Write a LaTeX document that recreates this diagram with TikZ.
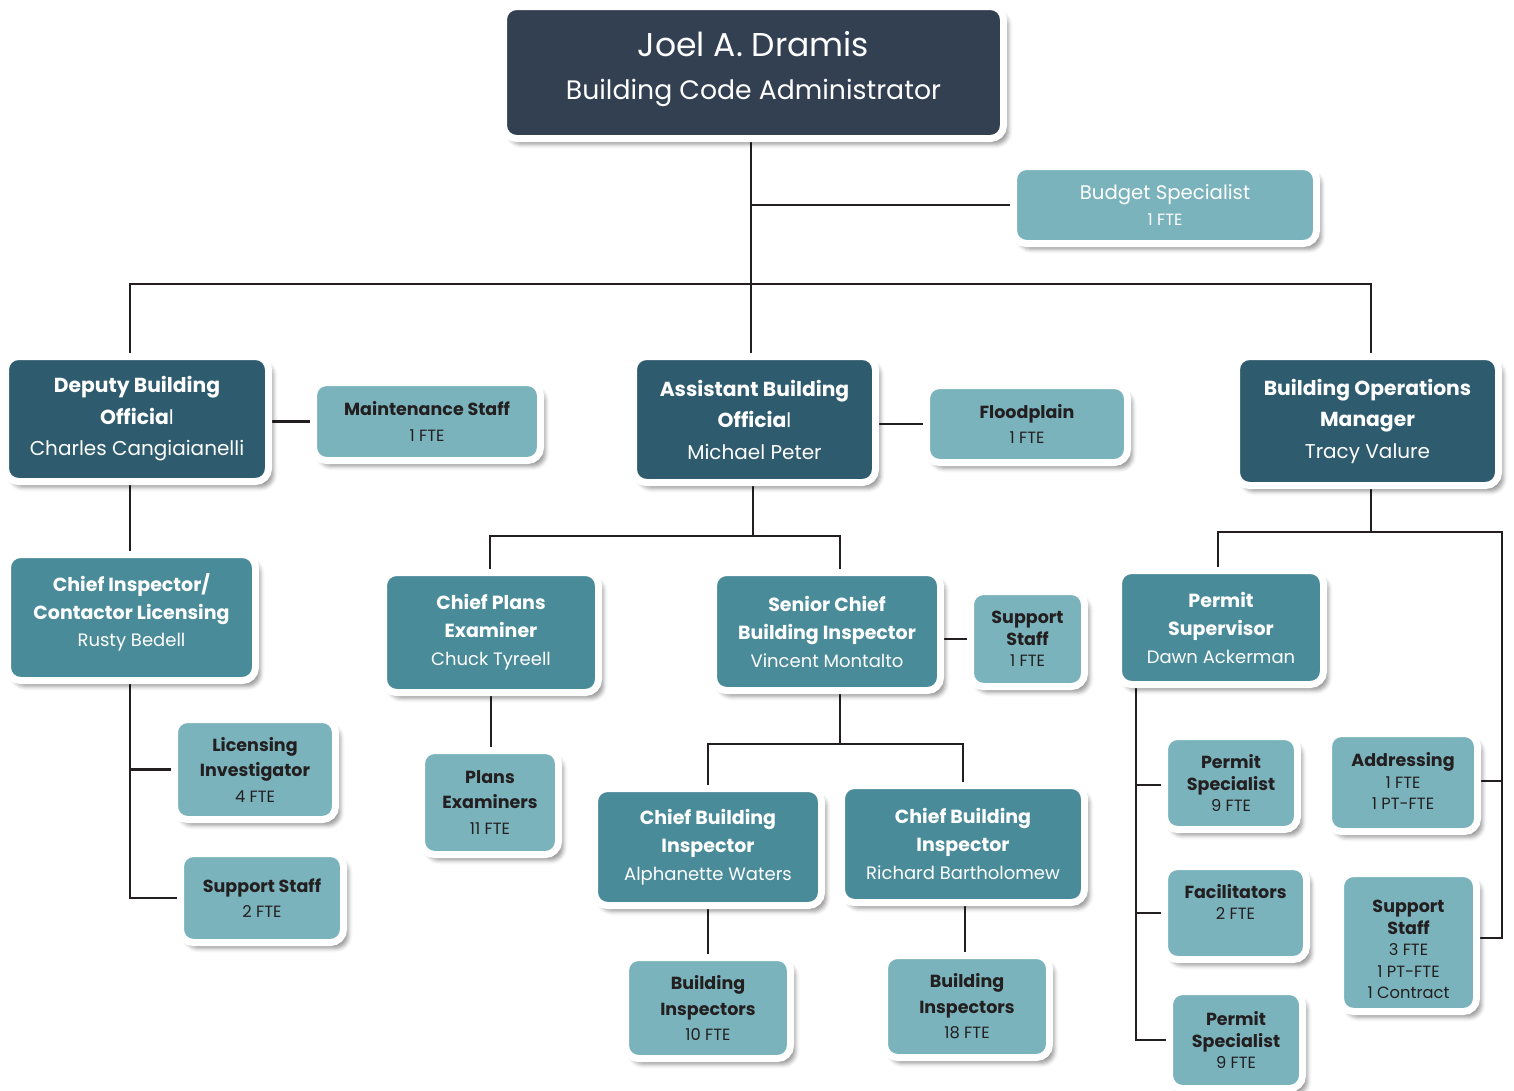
\documentclass[tikz,border=0pt]{standalone}
\usepackage{fontspec}
\setmainfont{Poppins}
\usetikzlibrary{shadows.blur,backgrounds}

\definecolor{navy}{RGB}{51,64,82}
\definecolor{deep}{RGB}{46,91,110}
\definecolor{mid}{RGB}{74,139,153}
\definecolor{light}{RGB}{122,179,188}
\definecolor{ink}{RGB}{35,31,32}

% heading lines of the three box families
\newcommand\hdA[1]{{\fontsize{20.3}{24}\selectfont\bfseries #1}}
\newcommand\hdB[1]{{\fontsize{19}{22}\selectfont\bfseries #1}}
\newcommand\hdC[1]{{\fontsize{17.5}{21}\selectfont\bfseries #1}}
\newcommand\fte[1]{{\fontsize{16.3}{18}\selectfont #1}}
% invisible struts that move a text block up (depth) or down (height)
\newcommand\lift[1]{\rule[-#1]{0pt}{0pt}}
\newcommand\drop[1]{\rule{0pt}{#1}}

\tikzset{
  card/.style={rounded corners=13pt, draw=white, line width=7pt, align=center,
    inner sep=0pt,
    blur shadow={shadow xshift=5pt, shadow yshift=-6pt, shadow blur radius=4pt,
      shadow opacity=40}},
  navybox/.style={card, fill=navy, text=white, font=\fontsize{26.7}{43}\selectfont},
  deepbox/.style={card, fill=deep, text=white, font=\fontsize{20}{31.5}\selectfont},
  midbox/.style={card, fill=mid, text=white, font=\fontsize{18}{28}\selectfont},
  lightbox/.style={card, fill=light, text=ink, font=\fontsize{16.3}{25.5}\selectfont},
  tightbox/.style={card, fill=light, text=ink, font=\fontsize{16.3}{21.5}\selectfont},
  wire/.style={draw=ink, line width=2.6pt},
  sz/.style 2 args={minimum width=#1pt+7pt, minimum height=#2pt+7pt},
}

\begin{document}
\begin{tikzpicture}[x=1pt,y=-1pt]
\useasboundingbox (0,0) rectangle (1514,1090);

% ---- top of the chart
\node[navybox, sz={493}{125}] (top) at (753.5,72.5)
  {{\fontsize{33}{33}\selectfont Joel A. Dramis}\\Building Code Administrator\lift{14pt}};
\node[card, fill=light, text=white, font=\fontsize{19.7}{26}\selectfont, sz={296}{70}]
  (budget) at (1165,205) {Budget Specialist\\\fte{1 FTE}};

% ---- second level
\node[deepbox, sz={256}{118}] (dep) at (137,419)
  {\hdA{Deputy Building}\\\hdA{Officia}l\\Charles Cangiaianelli\lift{4pt}};
\node[lightbox, sz={220}{71}] (maint) at (427,421.5)
  {\hdC{Maintenance Staff}\\\fte{1 FTE}};
\node[deepbox, sz={235}{119}] (asst) at (754.5,419.5)
  {\hdA{Assistant Building}\\\hdA{Officia}l\\Michael Peter};
\node[lightbox, sz={194}{70}] (flood) at (1027,424)
  {\hdC{Floodplain}\\\fte{1 FTE}};
\node[deepbox, sz={255}{122}] (ops) at (1367.5,421)
  {\hdA{Building Operations}\\\hdA{Manager}\\Tracy Valure};

% ---- deputy branch
\node[midbox, sz={241}{119}] (chiefLic) at (131.5,617.5)
  {\hdB{Chief Inspector/}\\\hdB{Contactor Licensing}\\[-1pt]Rusty Bedell\lift{15pt}};
\node[lightbox, sz={154}{93}] (licInv) at (255,769.5)
  {\hdC{Licensing}\\\hdC{Investigator}\\\fte{4 FTE}};
\node[lightbox, sz={156}{82}] (supTwo) at (262,898)
  {\hdC{Support Staff}\\\fte{2 FTE}};

% ---- assistant branch
\node[midbox, sz={208}{113}] (plans) at (491,632.5)
  {\hdB{Chief Plans}\\\hdB{Examiner}\\Chuck Tyreell};
\node[lightbox, sz={130}{97}] (plansEx) at (490,802.5)
  {\hdC{Plans}\\\hdC{Examiners}\\\fte{11 FTE}};
\node[midbox, sz={220}{111}] (senior) at (827,631.5)
  {\hdB{Senior Chief}\\\hdB{Building Inspector}\\Vincent Montalto};
\node[tightbox, sz={107}{88}] (supOne) at (1027.5,639)
  {\hdC{Support}\\\hdC{Staff}\\\fte{1 FTE}};
\node[midbox, sz={220}{110}] (cbiA) at (708,847)
  {\hdB{Chief Building}\\\hdB{Inspector}\\Alphanette Waters};
\node[midbox, sz={236}{110}] (cbiR) at (963,844)
  {\hdB{Chief Building}\\\hdB{Inspector}\\Richard Bartholomew};
\node[lightbox, sz={158}{94}] (biTen) at (708,1008)
  {\hdC{Building}\\\hdC{Inspectors}\\\fte{10 FTE}};
\node[lightbox, sz={158}{95}] (biEig) at (967,1006.5)
  {\hdC{Building}\\\hdC{Inspectors}\\\fte{18 FTE}};

% ---- operations branch
\node[midbox, sz={198}{107}] (psup) at (1221,627.5)
  {\hdB{Permit}\\\hdB{Supervisor}\\Dawn Ackerman};
\node[tightbox, sz={126}{86}] (psA) at (1231,783)
  {\hdC{Permit}\\\hdC{Specialist}\\\fte{9 FTE}};
\node[tightbox, sz={142}{91}] (addr) at (1403,782.5)
  {\hdC{Addressing}\\\fte{1 FTE}\\\fte{1 PT-FTE}\lift{3pt}};
\node[tightbox, sz={135}{86}] (facil) at (1235.5,913)
  {\hdC{Facilitators}\\\fte{2 FTE}\lift{22pt}};
\node[tightbox, sz={129}{131}] (supThree) at (1408.5,942.5)
  {\hdC{\drop{27pt}Support}\\\hdC{Staff}\\\fte{3 FTE}\\\fte{1 PT-FTE}\\\fte{1 Contract}};
\node[tightbox, sz={126}{90}] (psB) at (1236,1040)
  {\hdC{Permit}\\\hdC{Specialist}\\\fte{9 FTE}};

% ---- reporting lines
\coordinate (busM) at (751,284);
\coordinate (aBus) at (753,536);
\coordinate (sBus) at (840,744);
\coordinate (oBus) at (1371,532);
\coordinate (railR) at (1502,532);
\coordinate (railL) at (1136,0);

\begin{pgfonlayer}{background}
  \draw[wire] ([xshift=-2.5pt]top.center) -- ([xshift=-2.5pt]top.center |- asst.north);
  \draw[wire] ([xshift=-2.5pt]top.center |- budget) -- (budget);
  \draw[wire] ([xshift=-7pt]dep.center) |- (busM) -| ([xshift=3.5pt]ops.center);
  \draw[wire] (maint) -- (maint -| dep);
  \draw[wire] (flood) -- (flood -| asst);

  \draw[wire] ([xshift=-1.5pt]chiefLic.center) -- ([xshift=-1.5pt]chiefLic.center |- dep);
  \draw[wire] ([xshift=-1.5pt]chiefLic.center) |- (supTwo);
  \draw[wire] ([xshift=-1.5pt]chiefLic.center |- licInv) -- (licInv);

  \draw[wire] ([xshift=-1.5pt]asst.center) -- ([xshift=-1.5pt]asst.center |- aBus);
  \draw[wire] ([xshift=-1pt]plans.center) |- (aBus) -| (sBus |- senior);
  \draw[wire] (plans) -- (plans |- plansEx);
  \draw[wire] (supOne) -- (supOne -| senior);
  \draw[wire] (sBus |- senior) -- (sBus);
  \draw[wire] (cbiA) |- (sBus) -| (cbiR);
  \draw[wire] (cbiA) -- (biTen);
  \draw[wire] ([xshift=2pt]cbiR.center) -- ([xshift=2pt]cbiR.center |- biEig);

  \draw[wire] ([xshift=3.5pt]ops.center) -- (oBus);
  \draw[wire] ([xshift=-3pt]psup.center) |- (railR) |- ([yshift=4.5pt]supThree.center);
  \draw[wire] ([yshift=1.5pt]addr.center) -- ([yshift=1.5pt]addr.center -| railR);
  \draw[wire] (railL |- psup) |- (psB);
  \draw[wire] ([yshift=-2pt]psA.center -| railL) -- ([yshift=-2pt]psA.center);
  \draw[wire] (railL |- facil) -- (facil);
\end{pgfonlayer}
\end{tikzpicture}
\end{document}
